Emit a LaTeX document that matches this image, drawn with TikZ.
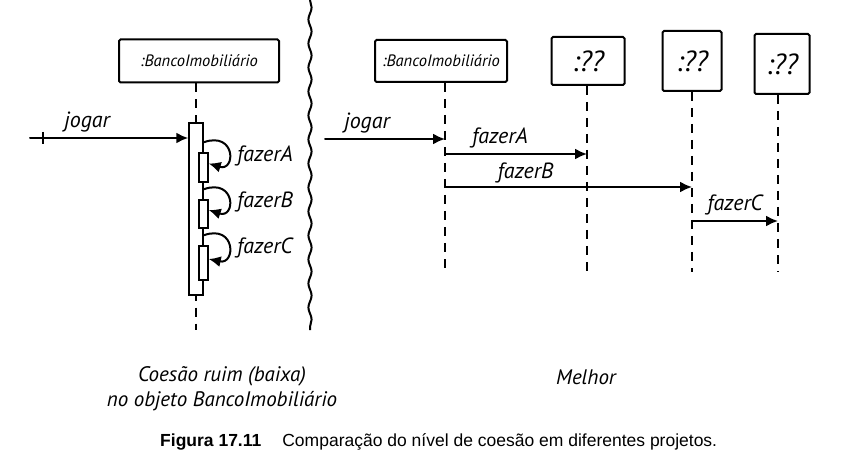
\documentclass[tikz,border=0pt]{standalone}
\usepackage{fontspec}
\setmainfont{Liberation Sans}
\newfontfamily\handfont{PT Sans}
\usetikzlibrary{arrows.meta,positioning,calc,decorations.pathmorphing}
\tikzset{
  objbox/.style={draw, line width=2pt, rounded corners=1.5pt, inner sep=0pt,
    font=\handfont\itshape\fontsize{16.5}{16.5}\selectfont},
  qbox/.style={objbox, font=\handfont\itshape\fontsize{29}{29}\selectfont},
  lifeline/.style={line width=1.8pt, dash pattern=on 9pt off 7pt},
  msg/.style={line width=2pt, line cap=round, -{Latex[length=12pt,width=11pt]}},
  actbar/.style={draw, line width=1.5pt, fill=white, inner sep=0pt},
  msglabel/.style={font=\handfont\itshape\fontsize{22}{22}\selectfont, inner sep=1pt},
  notelabel/.style={font=\handfont\itshape\fontsize{21}{25}\selectfont, align=center},
}

\begin{document}
\begin{tikzpicture}[x=1pt, y=-1pt]
    \useasboundingbox (0,0) rectangle (855,476);

    \node[objbox, minimum width=160pt, minimum height=43pt] (bi1) at (199,61) {:BancoImobiliário};
    \coordinate (bi1end) at (196,330);
    \draw[lifeline] (bi1.south -| bi1end) -- (bi1end);
    \node[actbar, minimum width=14pt, minimum height=172pt] (bigbar) at (196,209) {};
    \node[actbar, minimum width=9pt, minimum height=29pt] (barA) at (203.5,167.5) {};
    \node[actbar, minimum width=9pt, minimum height=28pt] (barB) at (203.5,214) {};
    \node[actbar, minimum width=9pt, minimum height=34pt] (barC) at (203.5,263) {};

    \coordinate (jogar1) at (30,138);
    \draw[msg] (jogar1) -- (jogar1 -| bigbar.west) node[msglabel, midway, above=4pt, xshift=-22pt] {jogar};
    \draw[line width=1.6pt] ($(jogar1)+(13,-6)$) -- ++(0,12);

    \draw[msg] ($(barA.north -| bigbar.east)+(0,-10)$) .. controls (236,131) and (236,172) .. ([yshift=4pt]barA.east);
    \draw[msg] ($(barB.north -| bigbar.east)+(0,-10)$) .. controls (236,178) and (236,219) .. ([yshift=4pt]barB.east);
    \draw[msg] ($(barC.north -| bigbar.east)+(0,-10)$) .. controls (236,224) and (236,265) .. ([yshift=4pt]barC.east);
    \node[msglabel, anchor=west] (lblA) at (236,156) {fazerA};
    \node[msglabel, anchor=west] (lblB) at (236,202) {fazerB};
    \node[msglabel, anchor=west] (lblC) at (236,248) {fazerC};

    \draw[line width=2pt, decorate, decoration={snake, amplitude=1.6pt, segment length=24pt}] (310,0) -- (310,330);

    \node[objbox, minimum width=132pt, minimum height=42pt] (bi2) at (441,61) {:BancoImobiliário};
    \node[qbox, minimum width=73pt, minimum height=48pt] (q1) at (588,61) {:??};
    \node[qbox, minimum width=59pt, minimum height=60pt] (q2) at (692,61) {:??};
    \node[qbox, minimum width=55pt, minimum height=60pt] (q3) at (782,64) {:??};
    \coordinate (bi2end) at (445,272);
    \coordinate (q1end) at (587,272);
    \coordinate (q2end) at (692,272);
    \coordinate (q3end) at (778,272);
    \draw[lifeline] (bi2.south -| bi2end) -- (bi2end);
    \draw[lifeline] (q1.south -| q1end) -- (q1end);
    \draw[lifeline] (q2.south -| q2end) -- (q2end);
    \draw[lifeline] (q3.south -| q3end) -- (q3end);

    \coordinate (jogar2) at (325,139);
    \draw[msg] (jogar2) -- (jogar2 -| bi2end) node[msglabel, midway, above=4pt, xshift=-18pt] {jogar};
    \draw[msg] (bi2end |- 0,154) -- (q1end |- 0,154) node[msglabel, midway, above=4pt, xshift=-16pt] {fazerA};
    \draw[msg] (bi2end |- 0,187) -- (q2end |- 0,187) node[msglabel, midway, above=2pt, xshift=-43pt] {fazerB};
    \draw[msg] (q2end |- 0,221) -- (q3end |- 0,221) node[msglabel, midway, above=4pt] {fazerC};

    \node[notelabel] (ruim) at (222,389) {Coesão ruim (baixa)\\no objeto BancoImobiliário};
    \node[notelabel] (melhor) at (586,377) {Melhor};

    \node[anchor=base west, font=\fontsize{17.5}{20}\selectfont, inner sep=0pt] (legenda) at (160,446)
      {\textbf{Figura 17.11}\hspace{1.2em}Comparação do nível de coesão em diferentes projetos.};
\end{tikzpicture}
\end{document}
